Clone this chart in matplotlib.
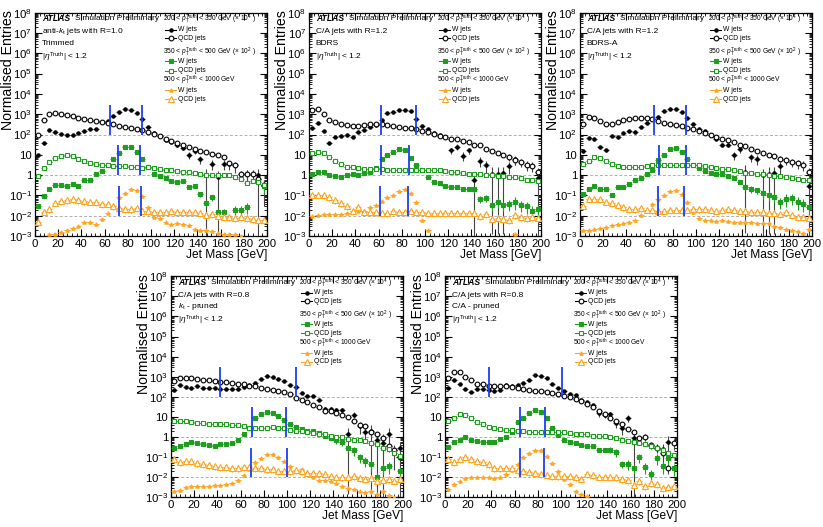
import numpy as np
import matplotlib
matplotlib.use("Agg")
import matplotlib.pyplot as plt
from matplotlib.ticker import MultipleLocator, LogLocator, FuncFormatter, NullFormatter

plt.rcParams["font.family"] = ["Liberation Sans", "DejaVu Sans"]
plt.rcParams["mathtext.fontset"] = "custom"
plt.rcParams["mathtext.rm"] = "Liberation Sans"
plt.rcParams["mathtext.it"] = "Liberation Sans:italic"
plt.rcParams["mathtext.bf"] = "Liberation Sans:bold"

# jet mass bin centres (5 GeV bins)
mass = np.arange(2.5, 200, 5)

# ---- anti-kt R=1.0 trimmed ----
trim_w1 = [10, 40, 160, 140, 110, 100, 100, 120, 150, 190, 190, 400, 450, 800, 1300, 1800, 1600, 1150, 550, 240,
           120, 80, 55, 43, 30, 22, 10, 15, 6.3, 1.0, 3.6, 0.8, 3.6, 3.4, 3.0, None, 1.1, None, 1.0, 0.3]
trim_q1 = [100, 500, 1000, 1200, 1000, 900, 800, 620, 550, 500, 450, 420, 390, 320, 270, 240, 210, 180, 160, 135,
           110, 85, 63, 50, 39, 30, 24, 20, 16, 14, 11, 10, 8, 3.8, 3.1, 1.2, 1.2, 1.2, 0.66, 0.33]
trim_w2 = [0.03, 0.09, 0.22, 0.33, 0.33, 0.3, 0.35, 0.3, 0.55, 0.55, 1.2, 1.6, 3, 6.6, 13, 23, 24, 13.5, 6, 2.6,
           1.2, 0.9, 0.7, 0.5, 0.47, 0.5, 0.27, 0.29, 0.12, 0.045, 0.08, 0.015, 0.015, None, 0.02, 0.02, 0.028, None, None, 0.3]
trim_q2 = [0.95, 2.2, 4.6, 7.1, 9, 9.5, 8.8, 6.6, 4.9, 4.0, 3.4, 3.1, 3.0, 2.9, 2.8, 2.7, 2.6, 2.4, 2.3, 2.4,
           2.2, 1.95, 1.8, 1.7, 1.6, 1.5, 1.4, 1.3, 1.2, 1.05, 1.0, 1.0, 1.0, 1.0, 0.8, 0.63, 0.4, 0.5, 0.45, 0.33]
trim_w3 = [None, None, 0.0012, 0.0013, 0.0016, 0.002, 0.0025, 0.003, 0.005, 0.005, 0.004, 0.007, 0.013, 0.03, 0.08, 0.13, 0.2, 0.18, 0.09, 0.027,
           0.009, 0.0074, 0.005, 0.004, 0.0045, 0.004, 0.0037, 0.0023, 0.002, 0.002, 0.0017, 0.0015, 0.0013, 0.0012, 0.0012, 0.001, None, None, None, None]
trim_q3 = [0.005, 0.016, 0.022, 0.045, 0.055, 0.06, 0.065, 0.06, 0.055, 0.05, 0.047, 0.04, 0.04, 0.03, 0.023, 0.022, 0.022, 0.023, 0.018, 0.017,
           0.015, 0.015, 0.016, 0.017, 0.016, 0.016, 0.015, 0.015, 0.014, 0.011, 0.012, 0.01, 0.009, 0.009, 0.008, 0.009, 0.008, 0.007, 0.006, 0.006]

# ---- C/A R=1.2 BDRS ----
bdrs_w1 = [210, 350, 150, 39, 77, 82, 90, 77, 135, 160, 230, 290, 500, 1100, 1300, 1600, 1600, 1400, 570, 270,
           180, 120, 90, 77, 17, 25, 9, 17, 0.6, 5, 3, 1.2, 1.2, 1.3, 2.8, 6, None, None, None, 0.7]
bdrs_q1 = [1600, 1900, 1000, 500, 400, 320, 290, 270, 270, 290, 320, 330, 320, 310, 270, 240, 220, 200, 180, 150,
           135, 110, 85, 75, 63, 63, 50, 43, 32, 30, 20, 16, 13, 10, 8, 5.5, 4.5, 3.3, 2.9, 1.5]
bdrs_w2 = [1.2, 1.45, 1.45, 1.0, 0.95, 0.85, 1.0, 1.1, 1.05, 1.3, 1.4, 2.3, 6, 10, 14, 20, 17, 7, 3.3, 1.8,
           0.85, 0.47, 0.4, 0.3, 0.25, 0.25, 0.2, 0.22, 0.2, 0.07, 0.075, 0.033, 0.05, 0.033, 0.04, 0.05, 0.033, 0.03, 0.018, 0.022]
bdrs_q2 = [13, 14, 12, 8, 5, 3.4, 2.6, 2.4, 2.3, 2.0, 2.0, 2.0, 1.9, 1.8, 1.8, 1.8, 1.8, 1.8, 1.7, 1.7,
           1.8, 1.8, 1.7, 1.65, 1.5, 1.45, 1.35, 1.2, 1.15, 1.1, 1.05, 1.0, 0.95, 0.9, 0.85, 0.8, 0.7, 0.6, 0.55, 0.5]
bdrs_w3 = [0.01, 0.011, 0.012, 0.012, 0.012, 0.012, 0.013, 0.015, 0.017, 0.018, 0.027, 0.035, 0.055, 0.08, 0.11, 0.16, 0.2, 0.14, 0.047, 0.006,
           0.002, None, None, None, None, None, None, None, None, None, None, None, None, None, None, 0.0012, None, None, None, None]
bdrs_q3 = [0.1, 0.11, 0.1, 0.08, 0.06, 0.042, 0.03, 0.018, 0.027, 0.016, 0.015, 0.015, 0.014, 0.014, 0.017, 0.016, 0.015, 0.018, 0.015, 0.015,
           0.013, 0.014, 0.013, 0.014, 0.014, 0.013, 0.014, 0.013, 0.013, 0.01, 0.012, 0.007, 0.008, 0.0066, 0.006, 0.011, 0.009, 0.008, 0.009, 0.008]

# ---- C/A R=1.2 BDRS-A ----
bdrsa_w1 = [15, 68, 58, 25, 17, 85, 77, 125, 150, 135, 240, 390, 570, 750, 1400, 1800, 1800, 1300, 620, 320,
            180, 150, 90, 63, 32, 32, 10, 20, 1.5, 8, 6.5, 1.0, 1.2, 1.3, 2.9, None, None, None, None, 0.3]
bdrsa_q1 = [320, 750, 620, 450, 320, 330, 420, 500, 560, 620, 660, 620, 560, 450, 390, 320, 290, 260, 220, 180,
            150, 120, 90, 77, 63, 52, 43, 32, 27, 20, 16, 13, 10, 8.5, 6.5, 5.4, 4.5, 3.9, 3.3, 1.5]
bdrsa_w2 = [0.12, 0.2, 0.3, 0.22, 0.2, 0.11, 0.26, 0.25, 0.38, 0.55, 0.72, 1.1, 1.8, 5.4, 10, 19, 22, 14, 6.5, 3.3,
            2.3, 1.6, 1.3, 1.2, 1.1, 0.9, 0.7, 0.47, 0.26, 0.22, 0.18, 0.14, 0.11, 0.085, 0.047, 0.07, 0.075, 0.05, 0.04, 0.027]
bdrsa_q2 = [3.7, 5, 8, 7, 5, 3.7, 2.7, 2.6, 2.4, 2.4, 2.6, 2.9, 3.1, 3.3, 3.3, 3.3, 3.3, 3.3, 3.3, 3.3,
            3.1, 2.9, 2.5, 2.3, 2.0, 1.9, 1.7, 1.6, 1.35, 1.25, 1.1, 1.1, 1.0, 0.95, 0.9, 0.8, 0.7, 0.65, 0.6, 0.55]
bdrsa_w3 = [0.002, 0.002, 0.0023, 0.0025, 0.0027, 0.0035, 0.004, 0.0045, 0.005, 0.0065, 0.011, 0.018, 0.04, 0.065, 0.1, 0.16, 0.18, 0.12, 0.047, 0.016,
            0.008, 0.0065, 0.006, 0.0055, 0.006, 0.0055, 0.005, 0.005, 0.0048, 0.0048, 0.0045, 0.0045, 0.0042, 0.003, 0.0028, 0.0023, 0.002, 0.0017, 0.0015, 0.0022]
bdrsa_q3 = [0.03, 0.07, 0.07, 0.065, 0.05, 0.042, 0.035, 0.026, 0.022, 0.022, 0.023, 0.02, 0.019, 0.018, 0.018, 0.02, 0.02, 0.019, 0.02, 0.022,
            0.022, 0.022, 0.02, 0.018, 0.019, 0.022, 0.02, 0.018, 0.018, 0.015, 0.016, 0.015, 0.013, 0.013, 0.012, 0.015, 0.011, 0.009, 0.0088, 0.008]

# ---- C/A R=0.8 kt-pruned ----
kt_w1 = [220, 390, 320, 270, 360, 270, 270, 270, 250, 240, 240, 250, 320, 390, 510, 770, 1100, 1000, 770, 610,
         390, 310, 150, 115, 115, 71, 26, 26, 23, 23, 1.5, 13, 3.5, 1.8, 2.0, 0.76, 0.5, 1.5, 0.22, 0.3]
kt_q1 = [610, 890, 890, 830, 770, 710, 660, 610, 570, 530, 490, 450, 420, 360, 360, 290, 250, 210, 200, 170,
         135, 85, 68, 55, 40, 32, 20, 19, 15, 13, 9.6, 6, 4.2, 3.5, 1.8, 1.35, 0.95, 0.37, 0.22, 0.1]
kt_w2 = [0.28, 0.37, 0.44, 0.57, 0.53, 0.44, 0.39, 0.37, 0.44, 0.44, 0.53, 0.76, 1.35, 2.9, 9, 14, 17, 16, 11, 6.8,
         4.5, 3.1, 2.6, 2.1, 2.0, 1.6, 1.1, 0.95, 0.68, 0.6, 0.28, 0.22, 0.1, 0.065, 0.045, 0.01, 0.03, 0.035, None, 0.02]
kt_q2 = [6.6, 6.6, 6.6, 5.7, 5.3, 5.1, 4.7, 4.6, 4.6, 4.5, 4.2, 3.9, 3.5, 2.9, 2.9, 2.9, 2.9, 3.1, 2.9, 2.7,
         2.3, 2.1, 2.0, 1.8, 1.6, 1.45, 1.35, 1.15, 1.05, 1.0, 0.85, 0.76, 0.68, 0.64, 0.53, 0.44, 0.28, 0.25, 0.17, 0.12]
kt_w3 = [0.002, 0.0024, 0.0035, 0.0039, 0.0037, 0.0037, 0.0037, 0.004, 0.0043, 0.0047, 0.005, 0.0075, 0.013, 0.026, 0.055, 0.095, 0.14, 0.14, 0.105, 0.062,
         0.038, 0.021, 0.026, 0.015, 0.01, 0.0075, 0.007, 0.0065, 0.005, 0.0039, 0.003, 0.0027, 0.0022, 0.0019, 0.002, 0.0015, 0.0022, 0.0014, 0.0011, None]
kt_q3 = [0.079, 0.055, 0.066, 0.062, 0.049, 0.046, 0.042, 0.036, 0.033, 0.033, 0.029, 0.029, 0.031, 0.033, 0.029, 0.029, 0.025, 0.025, 0.021, 0.021,
         0.020, 0.023, 0.020, 0.017, 0.016, 0.016, 0.0145, 0.0117, 0.0107, 0.0107, 0.010, 0.0117, 0.0093, 0.0083, 0.0093, 0.0069, 0.0074, 0.0083, 0.0069, 0.0085]

# ---- C/A R=0.8 C/A-pruned ----
ca_w1 = [280, 660, 450, 256, 175, 256, 240, 210, 190, 210, 370, 350, 400, 500, 660, 1250, 1050, 860, 450, 280,
         190, 140, 130, 69, 57, 39, 15, 12.5, 14, 4.9, 2.8, 9.3, 0.9, None, None, None, None, 0.25, 0.6, None]
ca_q1 = [860, 1800, 1700, 960, 660, 440, 440, 350, 340, 350, 340, 310, 280, 256, 230, 205, 190, 175, 163, 140,
         112, 96, 77, 61, 46, 30, 20, 14, 9, 6, 4.3, 2.5, 1.8, 0.9, 1.0, 0.42, 0.3, 0.16, 0.03, 0.5]
ca_w2 = [0.31, 0.6, 0.74, 1.0, 0.74, 0.66, 0.6, 0.6, 0.6, 0.83, 1.0, 1.9, 5.5, 9.3, 15, 22, 18, 9.3, 2.8, 1.3,
         0.74, 0.6, 0.5, 0.42, 0.35, 0.35, 0.24, 0.22, 0.24, 0.18, 0.047, 0.047, 0.028, 0.1, 0.032, 0.014, 0.09, 0.035, 0.09, 0.028]
ca_q2 = [6.3, 9.3, 13.5, 12.5, 8.5, 5.9, 4.3, 3.3, 3.0, 2.6, 2.3, 2.2, 2.05, 2.0, 1.9, 1.9, 1.8, 1.8, 1.8, 1.75,
         1.7, 1.6, 1.5, 1.45, 1.35, 1.2, 1.15, 1.1, 1.0, 0.94, 0.75, 0.67, 0.58, 0.5, 0.43, 0.37, 0.3, 0.22, 0.16, 0.13]
ca_w3 = [0.0026, 0.0046, 0.0066, 0.009, 0.01, 0.01, 0.01, 0.01, 0.0095, 0.011, 0.015, 0.022, 0.044, 0.1, 0.16, 0.24, 0.22, 0.11, 0.053, 0.02,
         0.0085, 0.0046, 0.0022, 0.0015, 0.0012, None, None, None, None, None, None, None, None, None, None, None, None, None, None, None]
ca_q3 = [0.078, 0.059, 0.078, 0.1, 0.078, 0.064, 0.059, 0.044, 0.03, 0.028, 0.028, 0.03, 0.022, 0.02, 0.019, 0.017, 0.014, 0.013, 0.0115, 0.0115,
         0.0115, 0.0115, 0.01, 0.0085, 0.014, 0.013, 0.011, 0.011, 0.011, 0.01, 0.0085, 0.0076, 0.0042, 0.0066, 0.0037, 0.0054, 0.0045, 0.003, 0.0033, 0.0037]

# relative errors; 0.999 = bar runs off the bottom
trim_w1_err = [0.08] * 22 + [0.12, 0.15, 0.2, 0.25, 0.35, 0.3, 0.45, 0.999, 0.5, 0.999, 0.5, 0.5, 0.55, 0, 0.7, 0, 0.999, 0.9]
bdrs_w1_err = [0.08] * 22 + [0.12, 0.15, 0.35, 0.3, 0.45, 0.35, 0.999, 0.5, 0.6, 0.999, 0.999, 0.999, 0.6, 0.5, 0, 0, 0, 0.999]
bdrsa_w1_err = [0.08] * 22 + [0.12, 0.15, 0.25, 0.25, 0.45, 0.35, 0.999, 0.45, 0.5, 0.999, 0.999, 0.999, 0.6, 0, 0, 0, 0, 0.999]
kt_w1_err = [0.08] * 22 + [0.1, 0.1, 0.12, 0.15, 0.25, 0.25, 0.25, 0.25, 0.999, 0.35, 0.6, 0.7, 0.999, 0.999, 0.999, 0.8, 0.9, 0.999]
ca_w1_err = [0.08] * 22 + [0.1, 0.12, 0.15, 0.15, 0.3, 0.3, 0.3, 0.45, 0.55, 0.4, 0.999, 0, 0, 0, 0, 0.9, 0.8, 0]
q1_err = [0.05] * 30 + [0.15, 0.15, 0.2, 0.25, 0.35, 0.4, 0.45, 0.5, 0.5, 0.55]
w2_err = [0.1] * 28 + [0.3, 0.4, 0.35, 0.5, 0.5, 0.5, 0.55, 0.6, 0.55, 0.6, 0.6, 0.6]
q2_err = 0.05
w3_err = 0.1
q3_err = 0.35

panels = [
    ("anti-$k_{\\mathrm{t}}$ jets with R=1.0", "Trimmed",
     (trim_w1, trim_q1, trim_w2, trim_q2, trim_w3, trim_q3), trim_w1_err,
     [(64.3, 92.3), (71.4, 90.3), (72.3, 91.1)]),
    ("C/A jets with R=1.2", "BDRS",
     (bdrs_w1, bdrs_q1, bdrs_w2, bdrs_q2, bdrs_w3, bdrs_q3), bdrs_w1_err,
     [(62.3, 92.2), (62.3, 86.4), (60.9, 85.2)]),
    ("C/A jets with R=1.2", "BDRS-A",
     (bdrsa_w1, bdrsa_q1, bdrsa_w2, bdrsa_q2, bdrsa_w3, bdrsa_q3), bdrsa_w1_err,
     [(63.4, 91.4), (68.3, 91.1), (67.1, 90.0)]),
    ("C/A jets with R=0.8", "$k_{\\mathrm{t}}$ - pruned",
     (kt_w1, kt_q1, kt_w2, kt_q2, kt_w3, kt_q3), kt_w1_err,
     [(42.4, 107.4), (69.6, 99.4), (68.5, 100.3)]),
    ("C/A jets with R=0.8", "C/A - pruned",
     (ca_w1, ca_q1, ca_w2, ca_q2, ca_w3, ca_q3), ca_w1_err,
     [(37.7, 101.2), (64.9, 86.4), (64.6, 85.2)]),
]

positions = [
    [0.0425, 0.552, 0.282, 0.424],
    [0.3755, 0.552, 0.282, 0.424],
    [0.7047, 0.552, 0.282, 0.424],
    [0.2078, 0.056, 0.282, 0.420],
    [0.5407, 0.056, 0.282, 0.420],
]

BLACK = "#000000"
GREEN = "#1e9e1e"
ORANGE = "#ffa51f"
BLUE = "#1d3dff"

# style per series: colour, marker, size, filled
styles = [
    (BLACK, "o", 2.4, True),
    (BLACK, "o", 3.4, False),
    (GREEN, "s", 2.6, True),
    (GREEN, "s", 3.2, False),
    (ORANGE, "^", 2.4, True),
    (ORANGE, "^", 3.8, False),
]
ref_levels = [1e2, 1.0, 1e-2]

legend_heads = [
    r"200 < $p_{\mathrm{T}}^{\mathrm{Truth}}$ < 350 GeV ($\times$ 10$^{4}$ )",
    r"350 < $p_{\mathrm{T}}^{\mathrm{Truth}}$ < 500 GeV ($\times$ 10$^{2}$ )",
    r"500 < $p_{\mathrm{T}}^{\mathrm{Truth}}$ < 1000 GeV",
]


def ylab(v, pos):
    if abs(v - 1) < 1e-9:
        return "1"
    if abs(v - 10) < 1e-9:
        return "10"
    return r"$10^{%d}$" % int(round(np.log10(v)))


fig = plt.figure(figsize=(8.23, 5.27), dpi=100)

for (line1, line2, series, w1_err, windows), pos in zip(panels, positions):
    ax = fig.add_axes(pos)
    ax.set_xlim(0, 200)
    ax.set_yscale("log")
    ax.set_ylim(1e-3, 1e8)

    for lev in ref_levels:
        ax.axhline(lev, color="#b0b0b0", lw=0.7, ls=(0, (3, 2)), zorder=1)

    errs = [w1_err, q1_err, w2_err, q2_err, w3_err, q3_err]
    for vals, err, (col, mk, ms, filled) in zip(series, errs, styles):
        v = np.array([np.nan if x is None else x for x in vals], dtype=float)
        rel = np.broadcast_to(np.array(err, dtype=float), v.shape)
        lo = v * np.minimum(rel, 0.999)
        hi = v * rel
        ecol = "#444444" if col == BLACK else col
        ax.errorbar(mass, v, xerr=2.5, yerr=[lo, hi], fmt=mk, color=col, ecolor=ecol,
                    ms=ms, mfc=col if filled else "white", mec=col, mew=0.8,
                    elinewidth=0.8, capsize=0, zorder=3)

    for (lo_m, hi_m), lev in zip(windows, ref_levels):
        ax.vlines([lo_m, hi_m], lev, lev * 30, colors=BLUE, lw=1.3, zorder=4)

    ax.xaxis.set_major_locator(MultipleLocator(20))
    ax.xaxis.set_minor_locator(MultipleLocator(4))
    ax.yaxis.set_major_locator(LogLocator(base=10, numticks=20))
    ax.yaxis.set_minor_locator(LogLocator(base=10, subs=np.arange(2, 10), numticks=20))
    ax.yaxis.set_major_formatter(FuncFormatter(ylab))
    ax.yaxis.set_minor_formatter(NullFormatter())
    ax.tick_params(which="both", direction="in", top=True, right=True, labelsize=8.2, pad=2)
    ax.tick_params(which="major", length=5)
    ax.tick_params(which="minor", length=2.5)
    for sp in ax.spines.values():
        sp.set_linewidth(0.9)

    ax.set_xlabel("Jet Mass [GeV]", fontsize=8.6, loc="right", labelpad=0)
    ax.set_ylabel("Normalised Entries", fontsize=10.2, loc="top")
    ax.yaxis.set_label_coords(-0.088, 1.01)

    # labels top-left
    ax.text(0.029, 0.972, "ATLAS", transform=ax.transAxes, fontsize=6.2,
            fontweight="bold", fontstyle="italic", va="center")
    ax.text(0.172, 0.972, "Simulation Preliminary", transform=ax.transAxes, fontsize=6.0, va="center")
    ax.text(0.029, 0.914, line1, transform=ax.transAxes, fontsize=6.0, va="center")
    ax.text(0.029, 0.862, line2, transform=ax.transAxes, fontsize=6.0, va="center")
    ax.text(0.029, 0.802, r"|$\eta^{\mathrm{Truth}}$| < 1.2", transform=ax.transAxes, fontsize=6.0, va="center")

    # legend built by hand
    rows_y = [(0.969, 0.924, 0.886), (0.824, 0.782, 0.741), (0.695, 0.652, 0.613)]
    for k, (yh, yw, yq) in enumerate(rows_y):
        ax.text(0.553, yh, legend_heads[k], transform=ax.transAxes, fontsize=4.8, va="center")
        for j, yy in enumerate((yw, yq)):
            col, mk, ms, filled = styles[2 * k + j]
            ax.plot([0.561, 0.608], [yy, yy], transform=ax.transAxes, color=col, lw=0.8, clip_on=False)
            ax.plot([0.5845], [yy], transform=ax.transAxes, marker=mk, ms=ms, color=col,
                    mfc=col if filled else "white", mew=0.8, clip_on=False)
            ax.text(0.615, yy, ["W jets", "QCD jets"][j], transform=ax.transAxes, fontsize=4.9, va="center")

fig.savefig("out.png", dpi=100)
